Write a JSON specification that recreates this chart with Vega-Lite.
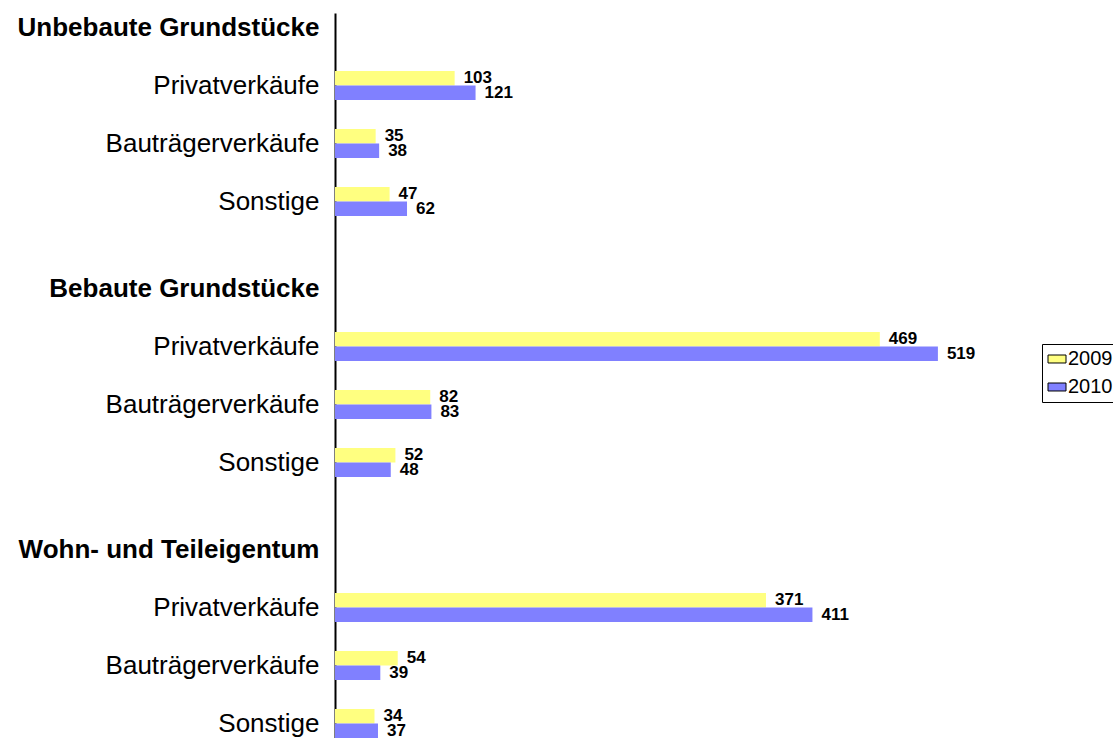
{
  "$schema": "https://vega.github.io/schema/vega-lite/v6.json",
  "width": 697,
  "height": 725,
  "autosize": "none",
  "padding": {"left": 335, "top": 13, "right": 81, "bottom": 0},
  "background": "white",
  "config": {"view": {"stroke": null}, "font": "Liberation Sans"},
  "data": {
    "values": [
      {"slot": "02|i|Privatverkäufe", "year": "2009", "value": 103},
      {"slot": "02|i|Privatverkäufe", "year": "2010", "value": 121},
      {"slot": "04|i|Bauträgerverkäufe", "year": "2009", "value": 35},
      {"slot": "04|i|Bauträgerverkäufe", "year": "2010", "value": 38},
      {"slot": "06|i|Sonstige", "year": "2009", "value": 47},
      {"slot": "06|i|Sonstige", "year": "2010", "value": 62},
      {"slot": "11|i|Privatverkäufe", "year": "2009", "value": 469},
      {"slot": "11|i|Privatverkäufe", "year": "2010", "value": 519},
      {"slot": "13|i|Bauträgerverkäufe", "year": "2009", "value": 82},
      {"slot": "13|i|Bauträgerverkäufe", "year": "2010", "value": 83},
      {"slot": "15|i|Sonstige", "year": "2009", "value": 52},
      {"slot": "15|i|Sonstige", "year": "2010", "value": 48},
      {"slot": "20|i|Privatverkäufe", "year": "2009", "value": 371},
      {"slot": "20|i|Privatverkäufe", "year": "2010", "value": 411},
      {"slot": "22|i|Bauträgerverkäufe", "year": "2009", "value": 54},
      {"slot": "22|i|Bauträgerverkäufe", "year": "2010", "value": 39},
      {"slot": "24|i|Sonstige", "year": "2009", "value": 34},
      {"slot": "24|i|Sonstige", "year": "2010", "value": 37}
    ]
  },
  "encoding": {
    "y": {
      "field": "slot",
      "type": "nominal",
      "scale": {
        "domain": [
          "00|h|Unbebaute Grundstücke", "01|b|", "02|i|Privatverkäufe", "03|b|", "04|i|Bauträgerverkäufe", "05|b|", "06|i|Sonstige", "07|b|", "08|b|",
          "09|h|Bebaute Grundstücke", "10|b|", "11|i|Privatverkäufe", "12|b|", "13|i|Bauträgerverkäufe", "14|b|", "15|i|Sonstige", "16|b|", "17|b|",
          "18|h|Wohn- und Teileigentum", "19|b|", "20|i|Privatverkäufe", "21|b|", "22|i|Bauträgerverkäufe", "23|b|", "24|i|Sonstige"
        ],
        "paddingInner": 0,
        "paddingOuter": 0
      },
      "axis": {
        "title": null,
        "grid": false,
        "domainColor": "black",
        "domainWidth": 2,
        "ticks": false,
        "tickSize": 0,
        "labelPadding": 16,
        "labelLimit": 500,
        "labelFontSize": 26,
        "labelColor": "black",
        "labelFont": "Liberation Sans",
        "labelExpr": "split(datum.value,'|')[2]",
        "labelFontWeight": {"condition": {"test": "split(datum.value,'|')[1]==='h'", "value": "bold"}, "value": "normal"}
      }
    },
    "yOffset": {
      "field": "year",
      "type": "nominal",
      "scale": {"domain": ["2009", "2010"], "paddingInner": 0, "paddingOuter": 0}
    },
    "x": {
      "field": "value",
      "type": "quantitative",
      "scale": {"domain": [0, 600], "nice": false},
      "axis": null
    }
  },
  "layer": [
    {
      "mark": {"type": "bar"},
      "encoding": {
        "color": {
          "field": "year",
          "type": "nominal",
          "scale": {"domain": ["2009", "2010"], "range": ["#FFFF80", "#8080FF"]},
          "legend": {
            "orient": "none",
            "legendX": 707,
            "legendY": 331,
            "title": null,
            "strokeColor": "black",
            "fillColor": "white",
            "padding": 5,
            "labelFontSize": 20,
            "labelFont": "Liberation Sans",
            "labelColor": "black",
            "symbolType": "M-1,-0.444H1V0.444H-1Z",
            "symbolSize": 324,
            "symbolStrokeColor": "black",
            "symbolStrokeWidth": 1,
            "symbolOpacity": 1,
            "labelOffset": 1,
            "rowPadding": 8
          }
        }
      }
    },
    {
      "mark": {"type": "text", "align": "left", "baseline": "middle", "dx": 9, "fontWeight": "bold", "fontSize": 17, "color": "black", "font": "Liberation Sans"},
      "encoding": {"text": {"field": "value", "type": "quantitative"}}
    }
  ]
}
